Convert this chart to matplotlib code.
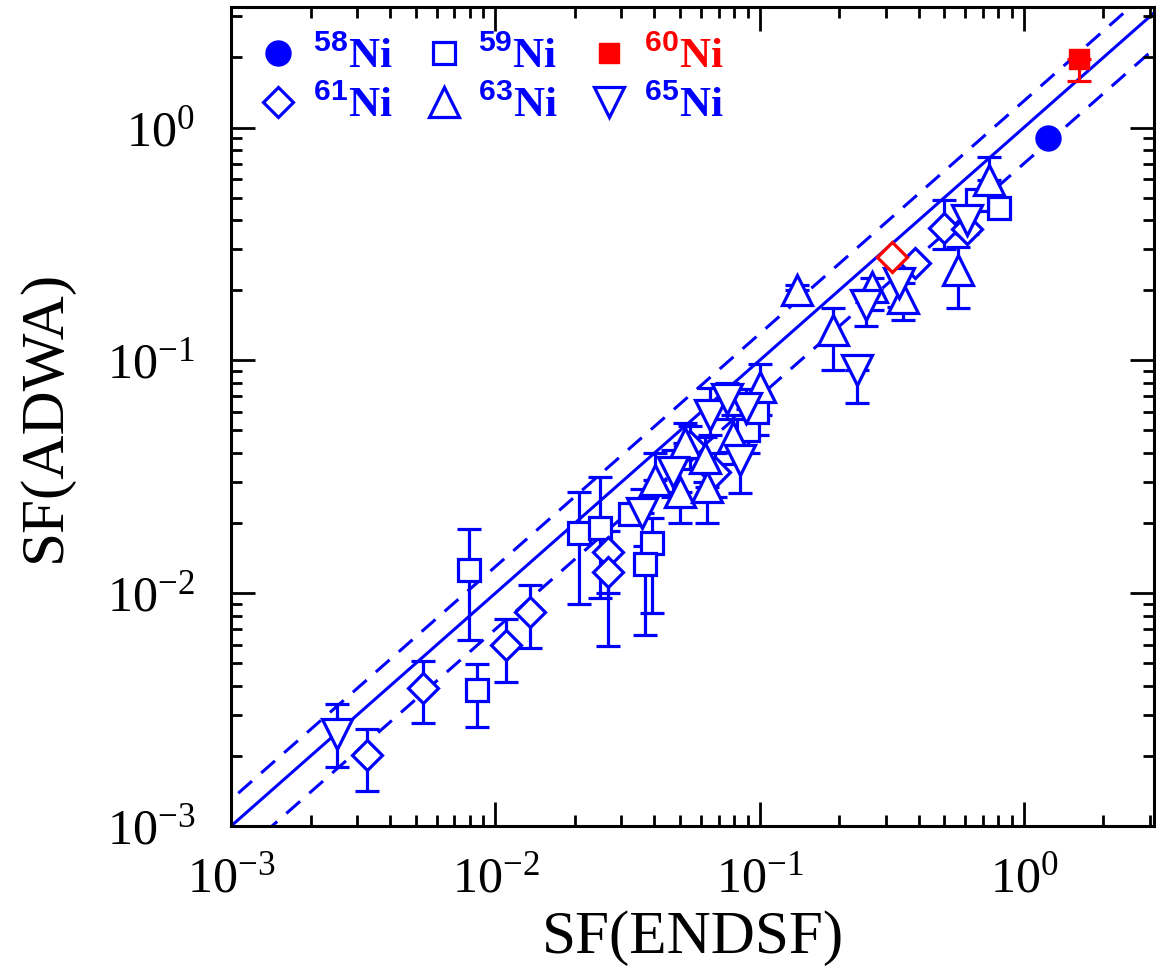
import matplotlib
matplotlib.use("Agg")
import matplotlib.pyplot as plt
from matplotlib.lines import Line2D
import numpy as np

plt.rcParams["font.family"] = ["Liberation Serif", "DejaVu Serif"]
plt.rcParams["mathtext.fontset"] = "custom"
plt.rcParams["mathtext.rm"] = "Liberation Serif"
plt.rcParams["mathtext.bf"] = "Liberation Sans:bold"

BLUE = "#0000ff"
RED = "#ff0000"

# 58Ni (filled circle)
ni58_x = [1.23]
ni58_y = [0.905]

# 60Ni (filled red square), lower error only
ni60_x = [1.62]
ni60_y = [1.96]
ni60_lo = [1.58]
ni60_hi = [1.96]

# red open diamond
red_x = [0.318]
red_y = [0.279]

# 59Ni (open squares): x, y, lower end, upper end of error bar
ni59_x = [7.95e-3, 8.5e-3, 2.07e-2, 2.48e-2, 3.9e-2, 3.67e-2, 3.23e-2, 0.090, 0.0977, 0.807, 0.667]
ni59_y = [1.26e-2, 3.85e-3, 1.82e-2, 1.90e-2, 1.64e-2, 1.33e-2, 2.18e-2, 0.050, 0.0599, 0.453, 0.49]
ni59_lo = [6.3e-3, 2.67e-3, 9.0e-3, 9.5e-3, 8.2e-3, 6.6e-3, 2.18e-2, 0.040, 0.048, 0.453, 0.49]
ni59_hi = [1.88e-2, 4.98e-3, 2.71e-2, 3.15e-2, 2.1e-2, 1.6e-2, 2.18e-2, 0.062, 0.070, 0.453, 0.49]

# 61Ni (open diamonds)
ni61_x = [3.27e-3, 5.32e-3, 1.1e-2, 1.35e-2, 2.66e-2, 2.66e-2, 0.0543, 0.0676, 0.50, 0.611, 0.386]
ni61_y = [2.02e-3, 3.92e-3, 6.0e-3, 8.33e-3, 1.50e-2, 1.23e-2, 0.0428, 0.033, 0.371, 0.365, 0.262]
ni61_lo = [1.41e-3, 2.77e-3, 4.16e-3, 5.83e-3, 1.0e-2, 5.9e-3, 0.034, 0.026, 0.30, 0.365, 0.262]
ni61_hi = [2.61e-3, 5.13e-3, 7.78e-3, 1.08e-2, 1.85e-2, 1.5e-2, 0.052, 0.040, 0.49, 0.365, 0.262]

# 63Ni (open up triangles)
ni63_x = [0.139, 0.189, 0.561, 0.348, 0.741, 0.267, 0.0401, 0.0499, 0.052, 0.063, 0.062, 0.100, 0.079]
ni63_y = [0.201, 0.135, 0.245, 0.185, 0.597, 0.207, 0.0305, 0.0271, 0.044, 0.0285, 0.038, 0.0767, 0.0468]
ni63_lo = [0.201, 0.0908, 0.168, 0.149, 0.597, 0.165, 0.0305, 0.020, 0.044, 0.020, 0.030, 0.058, 0.036]
ni63_hi = [0.21, 0.168, 0.307, 0.215, 0.75, 0.225, 0.040, 0.0271, 0.0537, 0.0285, 0.047, 0.0964, 0.058]

# 65Ni (open down triangles)
ni65_x = [2.51e-3, 0.0358, 0.0647, 0.084, 0.089, 0.233, 0.252, 0.338, 0.611, 0.047, 0.075]
ni65_y = [2.49e-3, 0.0222, 0.0582, 0.0372, 0.0623, 0.0908, 0.173, 0.215, 0.40, 0.033, 0.068]
ni65_lo = [1.79e-3, 0.0222, 0.048, 0.0268, 0.050, 0.0655, 0.14, 0.17, 0.35, 0.026, 0.056]
ni65_hi = [3.35e-3, 0.028, 0.076, 0.045, 0.075, 0.0908, 0.20, 0.24, 0.45, 0.041, 0.080]

lw = 2.3
fig = plt.figure(figsize=(11.56, 9.74), dpi=100)
ax = fig.add_axes([0.2, 0.152, 0.798, 0.841])
ax.set_xscale("log")
ax.set_yscale("log")
xlim = (1e-3, 3.1)
ylim = (1e-3, 3.3)

# y = x and +-30% lines
xx = np.array([1e-4, 10.0])
ax.plot(xx, xx, color=BLUE, lw=2.2, zorder=1)
ax.plot(xx, 1.3 * xx, color=BLUE, lw=2.2, ls=(0, (6, 4)), zorder=1)
ax.plot(xx, 0.7 * xx, color=BLUE, lw=2.2, ls=(0, (6, 4)), zorder=1)


def draw(xs, ys, lo, hi, marker, ms, color):
    xs, ys, lo, hi = map(np.asarray, (xs, ys, lo, hi))
    has = (hi > ys) | (lo < ys)
    if has.any():
        ax.errorbar(xs[has], ys[has], yerr=[ys[has] - lo[has], hi[has] - ys[has]],
                    fmt="none", ecolor=color, elinewidth=lw, capsize=8.5,
                    capthick=lw, zorder=2)
    ax.plot(xs, ys, ls="none", marker=marker, ms=ms, mfc="white", mec=color,
            mew=lw, zorder=3)


draw(ni59_x, ni59_y, ni59_lo, ni59_hi, "s", 16, BLUE)
draw(ni61_x, ni61_y, ni61_lo, ni61_hi, "D", 15, BLUE)
draw(ni63_x, ni63_y, ni63_lo, ni63_hi, "^", 22, BLUE)
draw(ni65_x, ni65_y, ni65_lo, ni65_hi, "v", 22, BLUE)
ax.plot(red_x, red_y, ls="none", marker="D", ms=15, mfc="white", mec=RED,
        mew=lw, zorder=3)

ax.errorbar(ni60_x, ni60_y, yerr=[np.subtract(ni60_y, ni60_lo), np.subtract(ni60_hi, ni60_y)],
            fmt="none", ecolor=RED, elinewidth=lw, capsize=8.5, capthick=lw, zorder=2)
ax.plot(ni60_x, ni60_y, ls="none", marker="s", ms=14, color=RED, zorder=3)
ax.plot(ni58_x, ni58_y, ls="none", marker="o", ms=18, color=BLUE, zorder=3)

ax.set_xlim(*xlim)
ax.set_ylim(*ylim)

# legend (column-major order for 2 rows x 3 columns)
handles = [
    Line2D([], [], ls="none", marker="o", ms=18, color=BLUE),
    Line2D([], [], ls="none", marker="D", ms=15, mfc="white", mec=BLUE, mew=lw),
    Line2D([], [], ls="none", marker="s", ms=16, mfc="white", mec=BLUE, mew=lw),
    Line2D([], [], ls="none", marker="^", ms=22, mfc="white", mec=BLUE, mew=lw),
    Line2D([], [], ls="none", marker="s", ms=14, color=RED),
    Line2D([], [], ls="none", marker="v", ms=22, mfc="white", mec=BLUE, mew=lw),
]
labels = [r"$^{\mathbf{58}}$Ni", r"$^{\mathbf{61}}$Ni", r"$^{\mathbf{59}}$Ni",
          r"$^{\mathbf{63}}$Ni", r"$^{\mathbf{60}}$Ni", r"$^{\mathbf{65}}$Ni"]
leg = ax.legend(handles, labels, ncol=3, loc="upper left", frameon=False,
                prop={"size": 31, "weight": "bold"}, handlelength=1.0,
                handletextpad=0.3, columnspacing=0.7, labelspacing=0.2,
                borderaxespad=0.3, bbox_to_anchor=(-0.005, 1.0))
for txt, col in zip(leg.get_texts(), [BLUE, BLUE, BLUE, BLUE, RED, BLUE]):
    txt.set_color(col)

for s in ax.spines.values():
    s.set_linewidth(2.2)
ax.tick_params(which="both", direction="in", top=True, right=True,
               labelsize=36, width=2)
ax.tick_params(which="major", length=17)
ax.tick_params(which="minor", length=8)
ax.tick_params(axis="x", which="major", pad=22)
ax.tick_params(axis="y", which="major", pad=26)
ax.set_xlabel("SF(ENDSF)", fontsize=44, labelpad=5)
ax.set_ylabel("SF(ADWA)", fontsize=44, labelpad=24)

fig.savefig("out.png", dpi=100)
